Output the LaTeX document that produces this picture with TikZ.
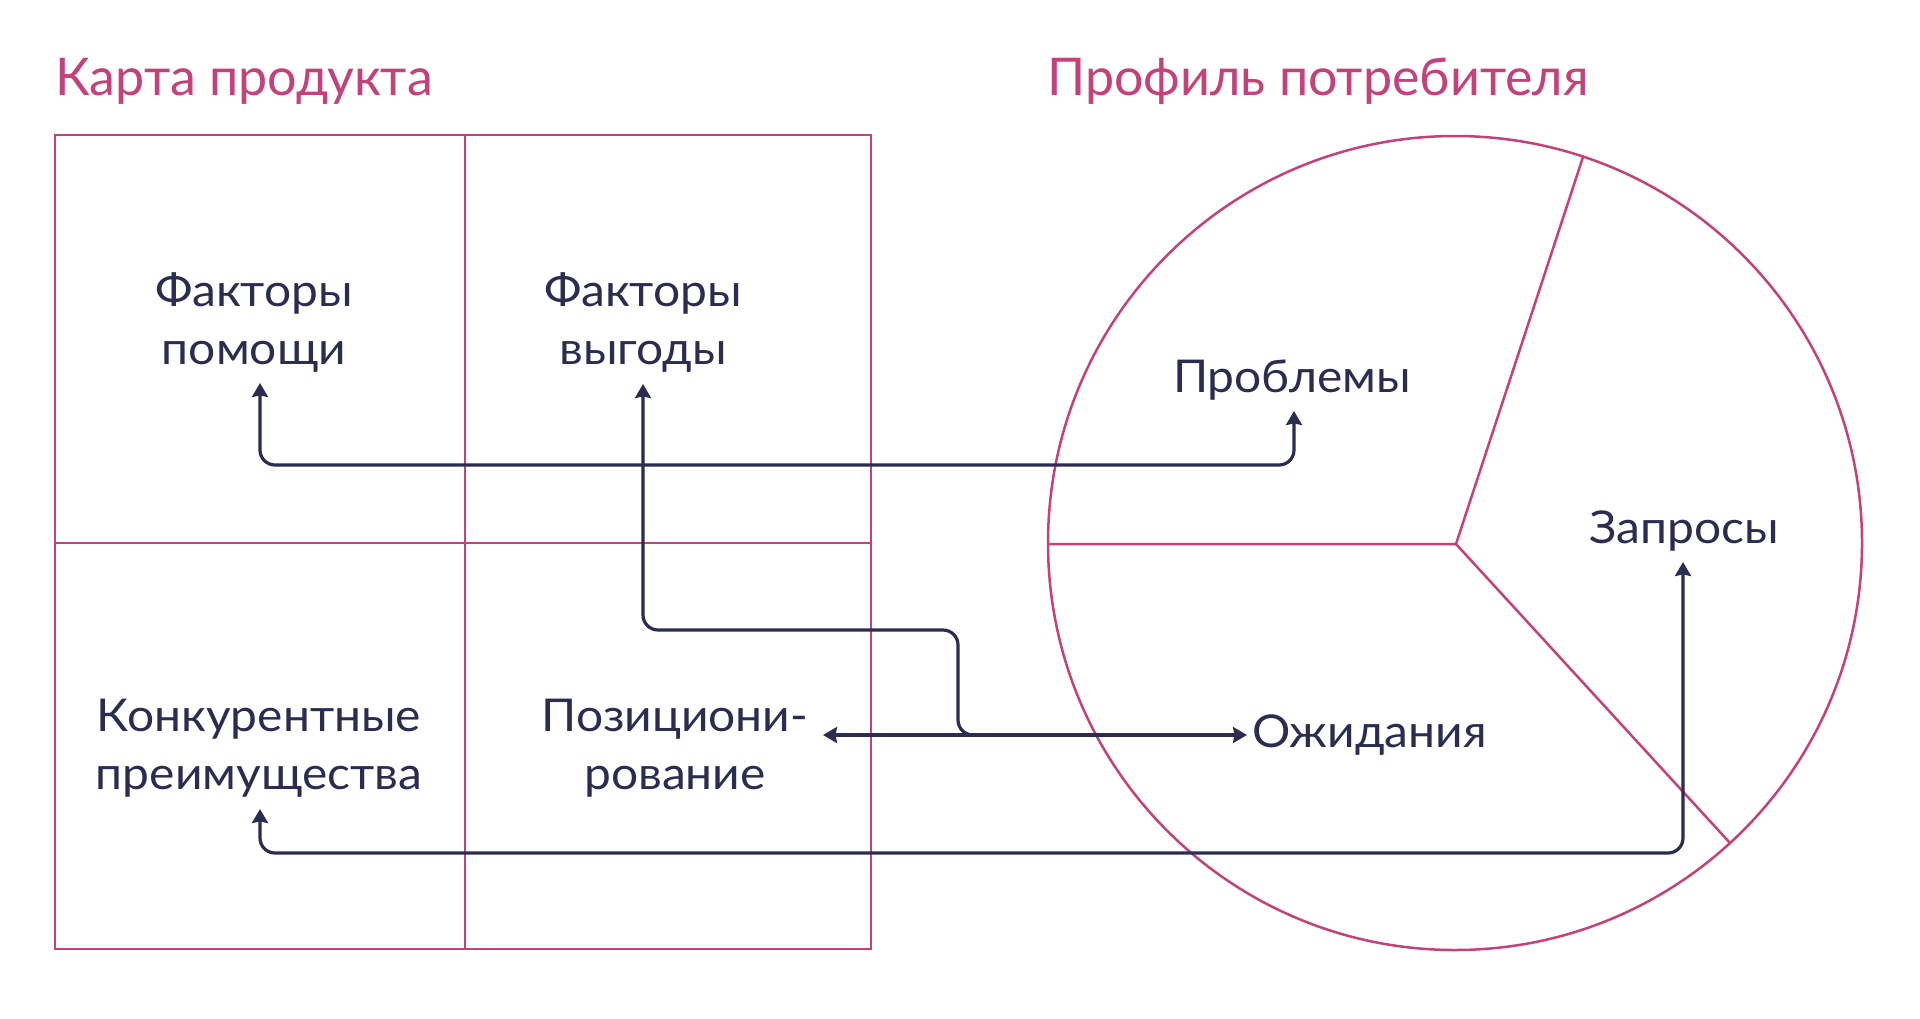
\documentclass[tikz,border=0pt]{standalone}
\usepackage{fontspec}
\setmainfont{Lato}
\newfontfamily\lblfont[FakeStretch=1.06]{Lato}
\usetikzlibrary{arrows.meta,calc}
\definecolor{pinkc}{HTML}{C4417A}
\definecolor{navyc}{HTML}{2B2C50}
\tikzset{
  frameline/.style={draw=pinkc, line width=1.25pt},
  conn/.style={draw=navyc, line width=1.6pt, rounded corners=7.5pt},
  tipA/.style={-{Stealth[length=7pt,width=8pt,inset=0.8pt]}},
  tipB/.style={{Stealth[length=7pt,width=8pt,inset=0.8pt]}-{Stealth[length=7pt,width=8pt,inset=0.8pt]}},
  title/.style={text=pinkc, font=\fontsize{26}{30}\selectfont, inner sep=0pt},
  lbl/.style={text=navyc, font=\lblfont\fontsize{22.6}{28.75}\selectfont, inner sep=0pt, align=center},
}
\begin{document}
\begin{tikzpicture}[x=0.5pt,y=-0.5pt]
\useasboundingbox[fill=white] (0,0) rectangle (1920,1018);
% titles
\node[title, anchor=base west] (t1) at (55,95) {Карта продукта};
\node[title, anchor=base west] (t2) at (1047,95) {Профиль потребителя};
% product map grid
\draw[frameline] (55,135) rectangle (871,949);
\draw[frameline] (465,135) -- (465,949);
\draw[frameline] (55,543) -- (871,543);
% customer profile circle
\coordinate (cc) at (1455,543);
\coordinate (hub) at (1456,544);
\draw[frameline] (cc) circle (407);
\draw[frameline] (1048,544) -- (hub) -- (1583,157);
\draw[frameline] (hub) -- (1730,843);
% labels (base = baseline of last line)
\node[lbl, anchor=base] (help) at (254,364) {Факторы\\помощи};
\node[lbl, anchor=base] (ben) at (643,364) {Факторы\\выгоды};
\node[lbl, anchor=base] (comp) at (259,789) {Конкурентные\\преимущества};
\node[lbl, anchor=base] (pos) at (675,789) {Позициони-\\рование};
\node[lbl, anchor=base] (prob) at (1292,392) {Проблемы};
\node[lbl, anchor=base] (req) at (1684,543) {Запросы};
\node[lbl, anchor=base west] (exp) at (1252,747) {Ожидания};
% connector end points
\coordinate (e-help) at (260,383);
\coordinate (e-prob) at (1294,411);
\coordinate (e-ben) at (643,384);
\coordinate (e-pos) at (823,735);
\coordinate (e-exp) at (1247,735);
\coordinate (e-join) at (990,735);
\coordinate (e-comp) at (260,809);
\coordinate (e-req) at (1683,562);
% connectors
\draw[conn, tipB] (e-help) -- (e-help |- 0,465) -- (e-prob |- 0,465) -- (e-prob);
\draw[conn, tipB] (e-pos) -- (e-exp);
\draw[conn, tipA] (e-join) -- (958,735) -- (958,630) -- (e-ben |- 0,630) -- (e-ben);
\draw[conn, tipB] (e-comp) -- (e-comp |- 0,853) -- (e-req |- 0,853) -- (e-req);
\end{tikzpicture}
\end{document}
